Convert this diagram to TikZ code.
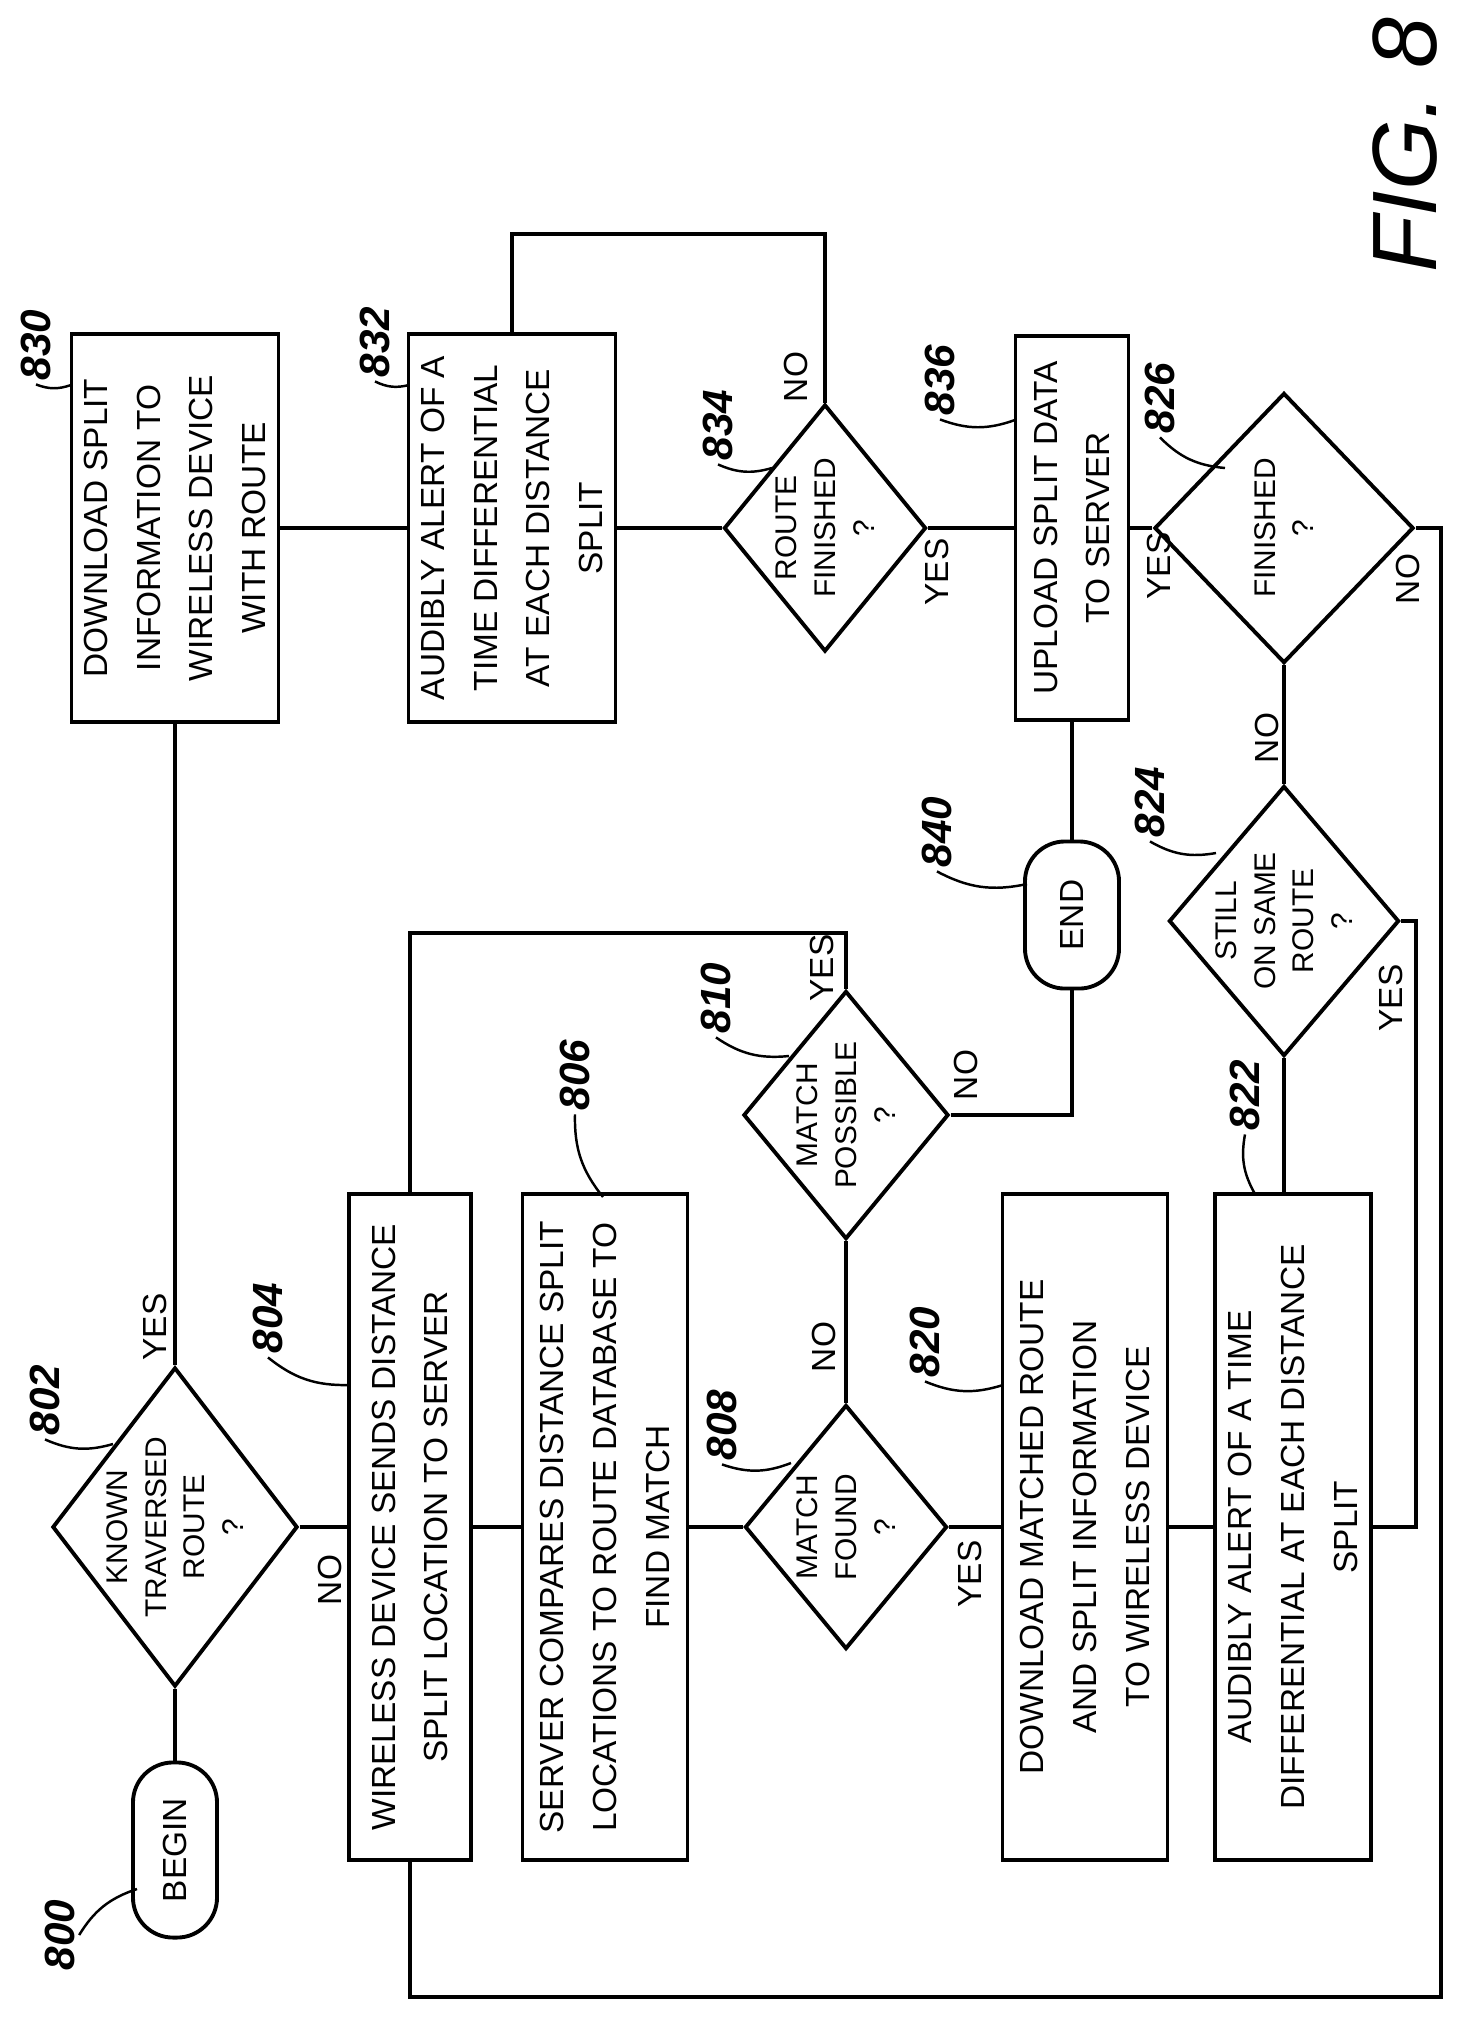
\documentclass[tikz,border=0pt]{standalone}
\usepackage{fontspec}
\setmainfont{Liberation Sans}
\usetikzlibrary{shapes.geometric, positioning}

\begin{document}
\begin{tikzpicture}[
    x=0.01cm, y=-0.01cm,
    every node/.style={rotate=90, font=\fontsize{9.5}{15}\selectfont, align=center, inner sep=1pt},
    action/.style={rectangle, draw, line width=1.1pt},
    decision/.style={diamond, draw, line width=1.1pt, inner sep=0pt,
                     label={[font=\fontsize{8.5}{11}\selectfont, align=center]center:#1}},
    terminal/.style={rectangle, draw, line width=1.1pt, rounded corners=0.4cm},
    refnum/.style={font=\fontsize{12}{12}\selectfont\bfseries\itshape},
    lead/.style={line width=0.7pt},
    flow/.style={line width=1pt}
]
    \useasboundingbox (0,0) rectangle (1460,2035);

    % Left part of the chart
    \node[terminal, minimum width=1.75cm, minimum height=0.84cm] (begin) at (175,1850) {BEGIN};
    \node[decision={KNOWN\\TRAVERSED\\ROUTE\\?}, minimum width=3.19cm, minimum height=2.45cm] (d802) at (175,1527) {};
    \node[action, minimum width=6.66cm, minimum height=1.22cm] (b804) at (410,1527) {WIRELESS DEVICE SENDS DISTANCE\\SPLIT LOCATION TO SERVER};
    \node[action, minimum width=6.66cm, minimum height=1.65cm] (b806) at (605,1527) {SERVER COMPARES DISTANCE SPLIT\\LOCATIONS TO ROUTE DATABASE TO\\FIND MATCH};
    \node[decision={MATCH\\FOUND\\?}, minimum width=2.44cm, minimum height=2.02cm] (d808) at (846,1527) {};
    \node[decision={MATCH\\POSSIBLE\\?}, minimum width=2.48cm, minimum height=2.05cm] (d810) at (846,1115) {};
    \node[action, minimum width=6.66cm, minimum height=1.65cm] (b820) at (1085,1527) {DOWNLOAD MATCHED ROUTE\\AND SPLIT INFORMATION\\TO WIRELESS DEVICE};
    \node[action, minimum width=6.66cm, minimum height=1.56cm] (b822) at (1293,1527) {AUDIBLY ALERT OF A TIME\\DIFFERENTIAL AT EACH DISTANCE\\SPLIT};
    \node[decision={STILL\\ON SAME\\ROUTE\\?}, minimum width=2.70cm, minimum height=2.30cm] (d824) at (1284,921) {};
    \node[terminal, minimum width=1.47cm, minimum height=0.94cm] (end) at (1072,915) {END};

    % Upper part of the chart
    \node[action, minimum width=3.87cm, minimum height=2.07cm] (b830) at (175,528) {DOWNLOAD SPLIT\\INFORMATION TO\\WIRELESS DEVICE\\WITH ROUTE};
    \node[action, minimum width=3.87cm, minimum height=2.07cm] (b832) at (512,528) {AUDIBLY ALERT OF A\\TIME DIFFERENTIAL\\AT EACH DISTANCE\\SPLIT};
    \node[decision={ROUTE\\FINISHED\\?}, minimum width=2.47cm, minimum height=2.02cm] (d834) at (825,528) {};
    \node[action, minimum width=3.83cm, minimum height=1.13cm] (b836) at (1072,528) {UPLOAD SPLIT DATA\\TO SERVER};
    \node[decision={FINISHED\\?}, minimum width=2.70cm, minimum height=2.59cm] (d826) at (1284,528) {};

    % Loop corners
    \coordinate (c810) at (410,933);
    \coordinate (c834) at (512,234);
    \coordinate (c824) at (1416,1527);
    \coordinate (c826a) at (1441,1997);
    \coordinate (c826b) at (410,1997);

    % Connectors
    \draw[flow] (begin) -- (d802);
    \draw[flow] (d802) -- (b804);
    \draw[flow] (b804) -- (b806);
    \draw[flow] (b806) -- (d808);
    \draw[flow] (d808) -- (b820);
    \draw[flow] (b820) -- (b822);
    \draw[flow] (d802) -- (b830);
    \draw[flow] (d808) -- (d810);
    \draw[flow] (d810) |- (c810) -- (b804);
    \draw[flow] (d810) -| (end);
    \draw[flow] (end) -- (b836);
    \draw[flow] (b830) -- (b832);
    \draw[flow] (b832) -- (d834);
    \draw[flow] (d834) -- (b836);
    \draw[flow] (b836) -- (d826);
    \draw[flow] (d834) |- (c834) -- (b832);
    \draw[flow] (d826) -- (d824);
    \draw[flow] (d824) -- (d824 |- b822.east);
    \draw[flow] (d824) -| (c824) -- (b822);
    \draw[flow] (d826) -| (c826a) -- (c826b) -- (b804);

    % Branch labels
    \node at (155,1327) {YES};
    \node at (330,1580) {NO};
    \node at (824,1347) {NO};
    \node at (970,1574) {YES};
    \node at (822,968) {YES};
    \node at (966,1075) {NO};
    \node at (1391,998) {YES};
    \node at (1267,738) {NO};
    \node at (796,377) {NO};
    \node at (937,572) {YES};
    \node at (1159,566) {YES};
    \node at (1408,579) {NO};

    % Reference numerals
    \node[refnum] (r800) at (60,1935) {800};
    \node[refnum] (r802) at (45,1400) {802};
    \node[refnum] (r804) at (268,1318) {804};
    \node[refnum] (r806) at (575,1075) {806};
    \node[refnum] (r808) at (722,1425) {808};
    \node[refnum] (r810) at (716,998) {810};
    \node[refnum] (r820) at (925,1342) {820};
    \node[refnum] (r822) at (1245,1095) {822};
    \node[refnum] (r840) at (937,832) {840};
    \node[refnum] (r824) at (1150,802) {824};
    \node[refnum] (r830) at (36,345) {830};
    \node[refnum] (r832) at (375,342) {832};
    \node[refnum] (r834) at (718,425) {834};
    \node[refnum] (r836) at (940,380) {836};
    \node[refnum] (r826) at (1160,398) {826};
    \draw[lead] (r800.south) to[bend left=20] (137,1889);
    \draw[lead] (r802.west) to[bend right=20] (113,1444);
    \draw[lead] (r804.west) to[bend right=20] (349,1385);
    \draw[lead] (r806.west) to[bend right=20] (603,1197);
    \draw[lead] (r808.west) to[bend right=20] (791,1463);
    \draw[lead] (r810.west) to[bend right=20] (789,1056);
    \draw[lead] (r820.west) to[bend right=20] (1003,1385);
    \draw[lead] (r822.west) to[bend right=20] (1255,1194);
    \draw[lead] (r840.west) to[bend right=20] (1027,884);
    \draw[lead] (r824.west) to[bend right=20] (1216,853);
    \draw[lead] (r830.west) to[bend right=20] (71,385);
    \draw[lead] (r832.west) to[bend right=20] (409,385);
    \draw[lead] (r834.west) to[bend right=20] (772,468);
    \draw[lead] (r836.west) to[bend right=20] (1015,420);
    \draw[lead] (r826.west) to[bend right=20] (1225,468);

    % Figure caption
    \node[font=\fontsize{26}{26}\selectfont\itshape] (fig) at (1405,145) {FIG. 8};
\end{tikzpicture}
\end{document}
